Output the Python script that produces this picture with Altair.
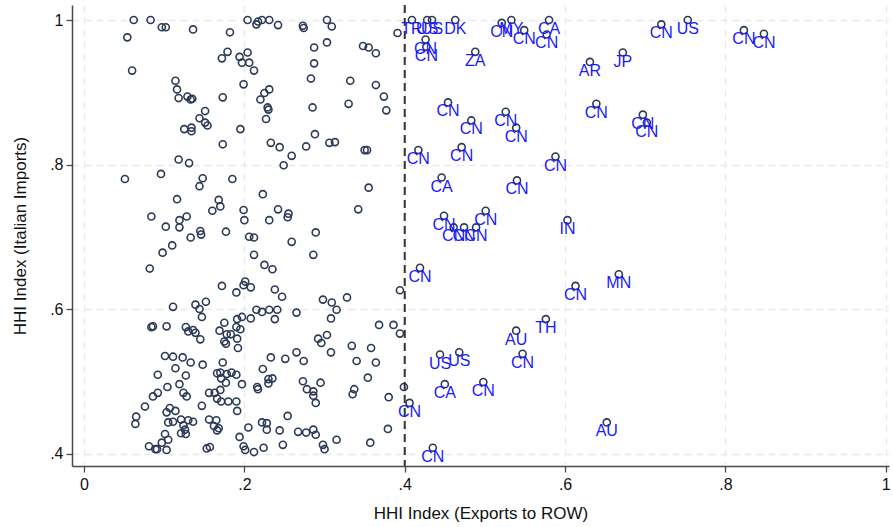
import altair as alt
import pandas as pd

# Products below the 0.4 export-concentration cut-off (no label)
base_x = [
    0.062, 0.083, 0.097, 0.102, 0.136, 0.182, 0.054, 0.179, 0.172, 0.060,
    0.114, 0.116, 0.118, 0.129, 0.133, 0.135, 0.173, 0.151, 0.144, 0.151,
    0.154, 0.125, 0.134, 0.134, 0.173, 0.118, 0.131, 0.051, 0.096, 0.148,
    0.144, 0.185, 0.116, 0.168, 0.170, 0.160, 0.084, 0.128, 0.119, 0.204,
    0.215, 0.217, 0.222, 0.231, 0.242, 0.273, 0.274, 0.303, 0.309, 0.391,
    0.303, 0.287, 0.348, 0.355, 0.364, 0.194, 0.204, 0.197, 0.206, 0.212,
    0.287, 0.283, 0.332, 0.364, 0.199, 0.225, 0.231, 0.220, 0.374, 0.229,
    0.230, 0.285, 0.330, 0.377, 0.227, 0.195, 0.288, 0.233, 0.244, 0.277,
    0.306, 0.313, 0.350, 0.353, 0.259, 0.249, 0.355, 0.223, 0.199, 0.242,
    0.255, 0.254, 0.342, 0.200, 0.231, 0.102, 0.119, 0.133, 0.145, 0.146,
    0.177, 0.110, 0.098, 0.082, 0.172, 0.190, 0.111, 0.139, 0.144, 0.152,
    0.147, 0.084, 0.086, 0.103, 0.127, 0.130, 0.136, 0.139, 0.145, 0.175,
    0.169, 0.178, 0.183, 0.175, 0.177, 0.101, 0.111, 0.123, 0.133, 0.148,
    0.114, 0.173, 0.092, 0.127, 0.166, 0.170, 0.178, 0.184, 0.171, 0.177,
    0.104, 0.119, 0.124, 0.128, 0.092, 0.086, 0.076, 0.107, 0.103, 0.114,
    0.065, 0.064, 0.105, 0.111, 0.121, 0.130, 0.136, 0.124, 0.126, 0.121,
    0.127, 0.147, 0.156, 0.163, 0.170, 0.166, 0.171, 0.180, 0.156, 0.165,
    0.162, 0.168, 0.166, 0.101, 0.105, 0.097, 0.081, 0.089, 0.091, 0.103,
    0.153, 0.157, 0.206, 0.212, 0.289, 0.259, 0.212, 0.286, 0.225, 0.235,
    0.201, 0.199, 0.208, 0.238, 0.247, 0.298, 0.309, 0.315, 0.328, 0.394,
    0.215, 0.222, 0.231, 0.241, 0.238, 0.265, 0.208, 0.191, 0.197, 0.308,
    0.190, 0.195, 0.368, 0.386, 0.394, 0.191, 0.292, 0.296, 0.303, 0.192,
    0.334, 0.358, 0.233, 0.251, 0.265, 0.274, 0.308, 0.340, 0.364, 0.223,
    0.190, 0.197, 0.230, 0.235, 0.230, 0.273, 0.295, 0.216, 0.217, 0.278,
    0.286, 0.286, 0.289, 0.354, 0.335, 0.337, 0.380, 0.399, 0.190, 0.191,
    0.254, 0.222, 0.228, 0.228, 0.205, 0.244, 0.267, 0.277, 0.286, 0.289,
    0.379, 0.194, 0.199, 0.201, 0.212, 0.224, 0.248, 0.298, 0.300, 0.315,
    0.357,
]
base_y = [
    1.000, 1.000, 0.990, 0.990, 0.987, 0.983, 0.976, 0.956, 0.947, 0.930,
    0.916, 0.904, 0.892, 0.894, 0.890, 0.891, 0.893, 0.874, 0.864, 0.858,
    0.854, 0.849, 0.851, 0.846, 0.828, 0.807, 0.802, 0.780, 0.787, 0.781,
    0.770, 0.780, 0.752, 0.751, 0.742, 0.736, 0.728, 0.728, 0.723, 1.000,
    0.994, 0.998, 1.000, 1.000, 0.993, 0.992, 0.989, 1.000, 0.991, 0.982,
    0.969, 0.962, 0.964, 0.962, 0.954, 0.949, 0.955, 0.941, 0.941, 0.930,
    0.940, 0.919, 0.916, 0.910, 0.911, 0.899, 0.904, 0.890, 0.894, 0.879,
    0.876, 0.879, 0.884, 0.875, 0.863, 0.849, 0.842, 0.830, 0.824, 0.825,
    0.830, 0.831, 0.820, 0.820, 0.812, 0.799, 0.768, 0.759, 0.737, 0.738,
    0.732, 0.727, 0.738, 0.723, 0.723, 0.714, 0.713, 0.699, 0.708, 0.703,
    0.707, 0.688, 0.678, 0.656, 0.632, 0.623, 0.603, 0.606, 0.600, 0.610,
    0.589, 0.575, 0.576, 0.576, 0.575, 0.569, 0.571, 0.567, 0.558, 0.581,
    0.570, 0.565, 0.565, 0.555, 0.552, 0.535, 0.534, 0.533, 0.526, 0.523,
    0.518, 0.526, 0.509, 0.508, 0.511, 0.512, 0.510, 0.512, 0.504, 0.498,
    0.492, 0.496, 0.484, 0.479, 0.484, 0.479, 0.465, 0.463, 0.457, 0.459,
    0.451, 0.441, 0.443, 0.444, 0.447, 0.446, 0.444, 0.439, 0.433, 0.428,
    0.427, 0.466, 0.484, 0.484, 0.488, 0.476, 0.472, 0.472, 0.447, 0.446,
    0.438, 0.435, 0.432, 0.427, 0.419, 0.415, 0.410, 0.406, 0.406, 0.405,
    0.407, 0.409, 0.700, 0.699, 0.706, 0.693, 0.675, 0.675, 0.661, 0.655,
    0.638, 0.633, 0.630, 0.627, 0.617, 0.613, 0.609, 0.599, 0.616, 0.626,
    0.599, 0.596, 0.599, 0.599, 0.586, 0.595, 0.587, 0.586, 0.589, 0.587,
    0.575, 0.572, 0.578, 0.578, 0.566, 0.559, 0.559, 0.553, 0.564, 0.546,
    0.549, 0.546, 0.533, 0.531, 0.540, 0.528, 0.540, 0.528, 0.526, 0.517,
    0.509, 0.496, 0.503, 0.504, 0.497, 0.500, 0.498, 0.492, 0.489, 0.489,
    0.486, 0.480, 0.470, 0.505, 0.482, 0.489, 0.478, 0.492, 0.472, 0.459,
    0.452, 0.443, 0.442, 0.433, 0.436, 0.432, 0.430, 0.429, 0.433, 0.426,
    0.434, 0.423, 0.410, 0.405, 0.402, 0.408, 0.412, 0.412, 0.406, 0.419,
    0.415,
]

# Products above the cut-off, labelled with the main supplier country
lab_x = [
    0.409, 0.428, 0.434, 0.463, 0.426, 0.427, 0.488, 0.521, 0.533, 0.549,
    0.580, 0.577, 0.631, 0.672, 0.720, 0.753, 0.823, 0.848, 0.454, 0.483,
    0.526, 0.539, 0.639, 0.697, 0.702, 0.417, 0.471, 0.588, 0.446, 0.540,
    0.449, 0.501, 0.461, 0.474, 0.489, 0.603, 0.419, 0.613, 0.667, 0.576,
    0.539, 0.444, 0.468, 0.547, 0.450, 0.498, 0.406, 0.652, 0.435,
]
lab_y = [
    1.000, 1.000, 1.000, 1.000, 0.973, 0.963, 0.956, 0.996, 1.000, 0.986,
    1.000, 0.980, 0.942, 0.955, 0.994, 1.000, 0.986, 0.981, 0.886, 0.861,
    0.873, 0.851, 0.884, 0.869, 0.858, 0.820, 0.824, 0.811, 0.782, 0.778,
    0.729, 0.736, 0.713, 0.713, 0.713, 0.723, 0.657, 0.632, 0.648, 0.586,
    0.570, 0.537, 0.540, 0.538, 0.496, 0.499, 0.470, 0.443, 0.408,
]
lab_code = [
    "TR", "US", "US", "DK", "CN", "CN", "ZA", "CN", "MY", "CN",
    "CA", "CN", "AR", "JP", "CN", "US", "CN", "CN", "CN", "CN",
    "CN", "CN", "CN", "CN", "CN", "CN", "CN", "CN", "CA", "CN",
    "CN", "CN", "CN", "CN", "CN", "IN", "CN", "CN", "MN", "TH",
    "AU", "US", "US", "CN", "CA", "CN", "CN", "AU", "CN",
]

all_pts = pd.DataFrame({"x": base_x + lab_x, "y": base_y + lab_y})
labelled = pd.DataFrame({"x": lab_x, "y": lab_y, "code": lab_code})

FONT = "Liberation Sans"
x_scale = alt.Scale(domain=[-0.015, 1.004], nice=False, zero=False)
y_scale = alt.Scale(domain=[0.3827, 1.0208], nice=False, zero=False)

x_enc = alt.X(
    "x:Q", scale=x_scale,
    axis=alt.Axis(
        values=[0, 0.2, 0.4, 0.6, 0.8, 1],
        labelExpr="datum.value == 0 ? '0' : datum.value == 1 ? '1' : slice(format(datum.value, '.1f'), 1)",
        title="HHI Index (Exports to ROW)",
    ),
)
y_enc = alt.Y(
    "y:Q", scale=y_scale,
    axis=alt.Axis(
        values=[0.4, 0.6, 0.8, 1],
        labelExpr="datum.value == 1 ? '1' : slice(format(datum.value, '.1f'), 1)",
        title="HHI Index (Italian Imports)",
    ),
)

points = alt.Chart(all_pts).mark_point(
    shape="circle", filled=False, size=50, strokeWidth=1.6,
    color="#2b3a55", opacity=1,
).encode(x=x_enc, y=y_enc)

cutoff = alt.Chart(pd.DataFrame({"x": [0.4]})).mark_rule(
    color="#333333", strokeWidth=2, strokeDash=[8, 5],
).encode(x=alt.X("x:Q", scale=x_scale))

labels = alt.Chart(labelled).mark_text(
    align="center", baseline="top", dy=1, fontSize=16,
    font=FONT, color="#1a1aff",
).encode(
    x=alt.X("x:Q", scale=x_scale),
    y=alt.Y("y:Q", scale=y_scale),
    text="code:N",
)

chart = alt.layer(points, cutoff, labels).properties(
    width=817, height=461,
    autosize=alt.AutoSizeParams(type="none"),
    padding={"left": 72, "top": 5, "right": 4, "bottom": 61},
    background="white",
).configure_view(strokeWidth=0).configure_axis(
    labelFont=FONT, titleFont=FONT, labelFontSize=16, titleFontSize=17,
    titleFontWeight="normal", labelColor="#111111", titleColor="#111111",
    domainColor="#4a4a4a", domainWidth=1.5, tickColor="#4a4a4a",
    tickWidth=1.3, tickSize=6, grid=True, gridColor="#e9e9e9",
    gridDash=[7, 5], gridWidth=1.3,
).configure_axisX(
    labelPadding=4, titlePadding=13,
).configure_axisY(
    labelPadding=3, titlePadding=20, labelAngle=0,
)

chart.save("out.html", embed_options={"renderer": "svg", "actions": False})
